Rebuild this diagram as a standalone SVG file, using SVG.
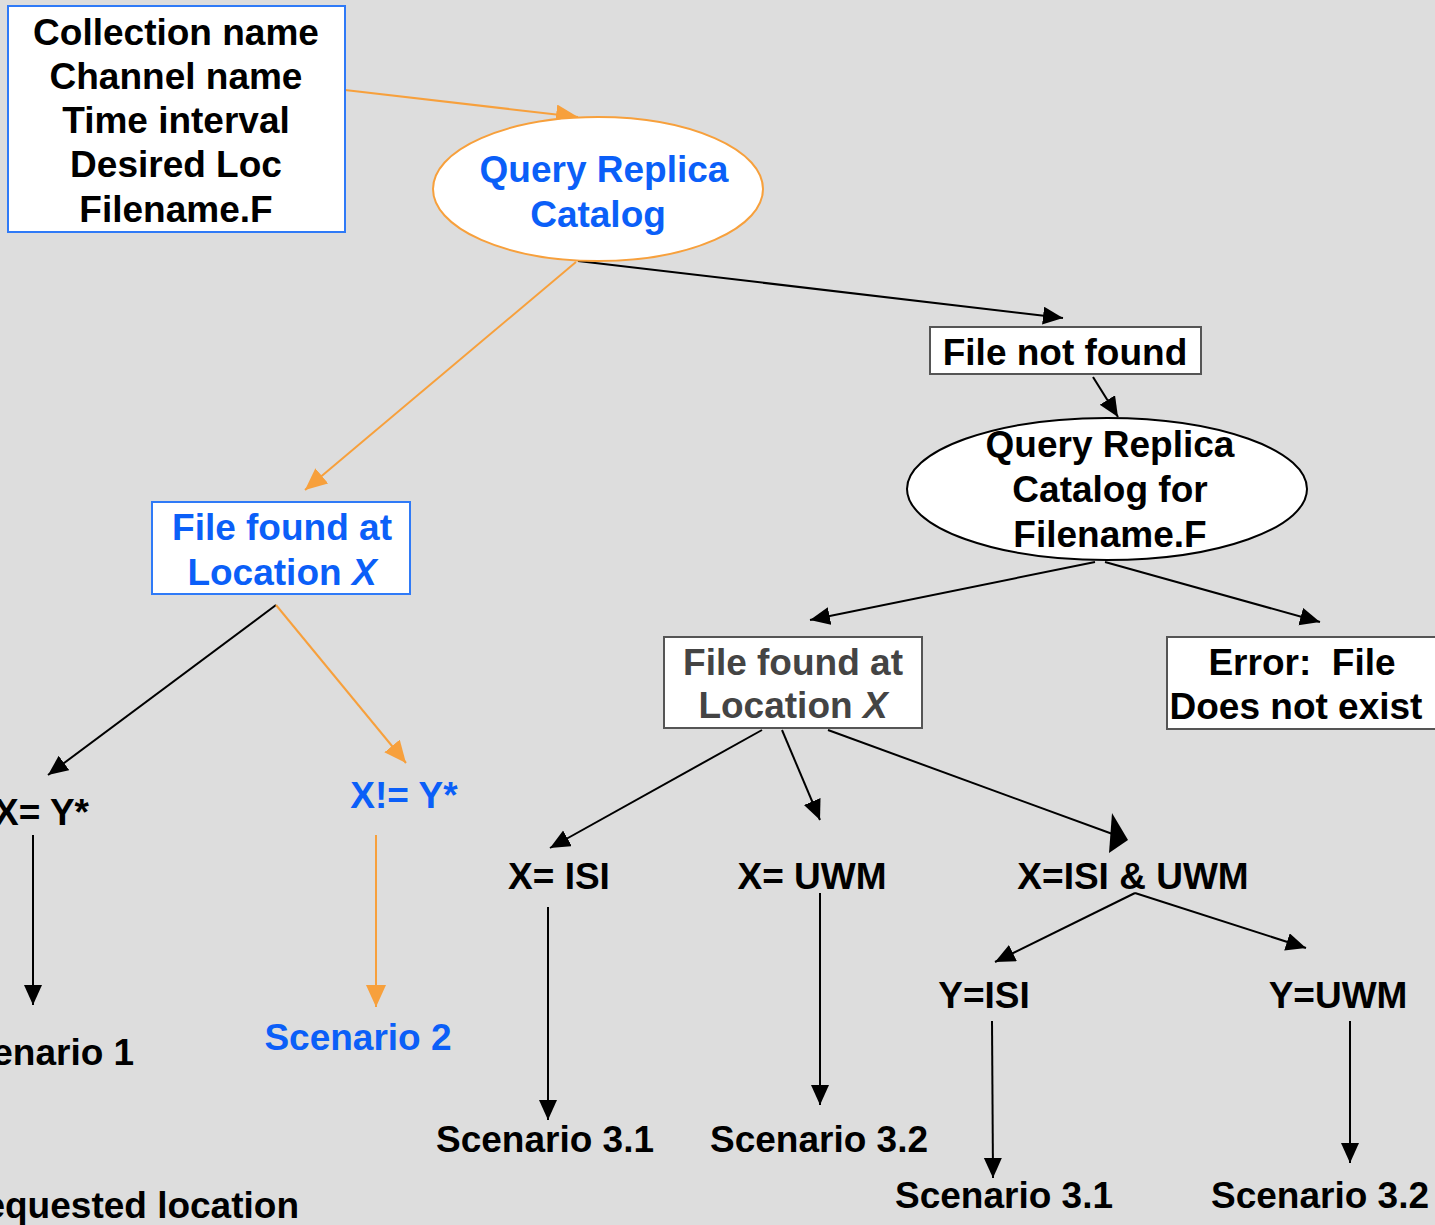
<svg xmlns="http://www.w3.org/2000/svg" width="1435" height="1225" viewBox="0 0 1435 1225">
  <style>
    text { font-family: "Liberation Sans", Arial, sans-serif; font-weight: bold; font-size: 37px; fill: #000; white-space: pre; }
    .c { text-anchor: middle; }
    .blue { fill: #0b5ff8; }
    .grey { fill: #444; }
    .bx { fill: #fff; stroke-width: 2; }
    .bb { stroke: #2f7af7; }
    .bg { stroke: #555; }
    .k { stroke: #000; stroke-width: 2; fill: none; }
    .o { stroke: #f7a03c; stroke-width: 2; fill: none; }
  </style>
  <defs>
    <marker id="ak" markerUnits="userSpaceOnUse" markerWidth="22" markerHeight="20" refX="20" refY="9" orient="auto">
      <path d="M0,0 L20,9 L0,18 z" fill="#000"/>
    </marker>
    <marker id="ao" markerUnits="userSpaceOnUse" markerWidth="24" markerHeight="22" refX="22" refY="10" orient="auto">
      <path d="M0,0 L22,10 L0,20 z" fill="#f7a03c"/>
    </marker>
  </defs>

  <rect width="1435" height="1225" fill="#dddddd"/>

  <!-- connectors -->
  <g id="connectors">
    <line class="o" x1="345" y1="90" x2="578" y2="117" marker-end="url(#ao)"/>
    <line class="k" x1="578" y1="261" x2="1063" y2="318" marker-end="url(#ak)"/>
    <line class="o" x1="576" y1="262" x2="305" y2="490" marker-end="url(#ao)"/>
    <line class="k" x1="1093" y1="377" x2="1118" y2="417" marker-end="url(#ak)"/>
    <line class="k" x1="1095" y1="562" x2="810" y2="620" marker-end="url(#ak)"/>
    <line class="k" x1="1105" y1="562" x2="1320" y2="622" marker-end="url(#ak)"/>
    <line class="k" x1="276" y1="605" x2="48" y2="775" marker-end="url(#ak)"/>
    <line class="o" x1="276" y1="605" x2="406" y2="763" marker-end="url(#ao)"/>
    <line class="k" x1="33" y1="835" x2="33" y2="1005" marker-end="url(#ak)"/>
    <line class="o" x1="376" y1="835" x2="376" y2="1007" marker-end="url(#ao)"/>
    <line class="k" x1="762" y1="730" x2="550" y2="848" marker-end="url(#ak)"/>
    <line class="k" x1="782" y1="730" x2="820" y2="820" marker-end="url(#ak)"/>
    <line class="k" x1="828" y1="730" x2="1118" y2="836"/>
    <polygon points="1112,813 1128,840 1109,853" fill="#000"/>
    <line class="k" x1="548" y1="907" x2="548" y2="1120" marker-end="url(#ak)"/>
    <line class="k" x1="820" y1="893" x2="820" y2="1105" marker-end="url(#ak)"/>
    <line class="k" x1="1135" y1="893" x2="995" y2="962" marker-end="url(#ak)"/>
    <line class="k" x1="1135" y1="893" x2="1306" y2="948" marker-end="url(#ak)"/>
    <line class="k" x1="992" y1="1021" x2="993" y2="1178" marker-end="url(#ak)"/>
    <line class="k" x1="1350" y1="1021" x2="1350" y2="1163" marker-end="url(#ak)"/>
  </g>

  <!-- input parameters -->
  <g id="inputs">
    <rect class="bx bb" x="8" y="6" width="337" height="226"/>
    <text class="c" x="176" y="45">Collection name</text>
    <text class="c" x="176" y="89">Channel name</text>
    <text class="c" x="176" y="133">Time interval</text>
    <text class="c" x="176" y="177">Desired Loc</text>
    <text class="c" x="176" y="222">Filename.F</text>
  </g>

  <g id="query1">
    <ellipse cx="598" cy="189" rx="165" ry="72" fill="#fff" stroke="#f7a03c" stroke-width="2"/>
    <text class="c blue" x="604" y="182">Query Replica</text>
    <text class="c blue" x="598" y="227">Catalog</text>
  </g>

  <g id="not-found">
    <rect class="bx bg" x="930" y="327" width="271" height="47"/>
    <text class="c" x="1065" y="365">File not found</text>
  </g>

  <g id="query2">
    <ellipse cx="1107" cy="489" rx="200" ry="71" fill="#fff" stroke="#000" stroke-width="2"/>
    <text class="c" x="1110" y="457">Query Replica</text>
    <text class="c" x="1110" y="502">Catalog for</text>
    <text class="c" x="1110" y="547">Filename.F</text>
  </g>

  <g id="found-left">
    <rect class="bx bb" x="152" y="502" width="258" height="92"/>
    <text class="c blue" x="282" y="540">File found at</text>
    <text class="c blue" x="282" y="585">Location <tspan font-style="italic">X</tspan></text>
  </g>

  <g id="found-right">
    <rect class="bx bg" x="664" y="637" width="258" height="91"/>
    <text class="c grey" x="793" y="675">File found at</text>
    <text class="c grey" x="793" y="718">Location <tspan font-style="italic">X</tspan></text>
  </g>

  <g id="error">
    <rect class="bx bg" x="1167" y="637" width="270" height="92"/>
    <text class="c" x="1302" y="675">Error:  File</text>
    <text class="c" x="1296" y="719">Does not exist</text>
  </g>

  <g id="x-eq-y"><text x="-6" y="825">X= Y*</text></g>
  <g id="x-ne-y"><text class="c blue" x="404" y="808">X!= Y*</text></g>
  <g id="scenario1"><text x="-53" y="1065">Scenario 1</text></g>
  <g id="scenario2"><text class="c blue" x="358" y="1050">Scenario 2</text></g>
  <g id="note"><text x="299" y="1218" text-anchor="end">requested location</text></g>

  <g id="x-isi"><text class="c" x="559" y="889">X= ISI</text></g>
  <g id="x-uwm"><text class="c" x="812" y="889">X= UWM</text></g>
  <g id="x-both"><text class="c" x="1133" y="889">X=ISI &amp; UWM</text></g>
  <g id="scenario31a"><text class="c" x="545" y="1152">Scenario 3.1</text></g>
  <g id="scenario32a"><text class="c" x="819" y="1152">Scenario 3.2</text></g>
  <g id="y-isi"><text class="c" x="984" y="1008">Y=ISI</text></g>
  <g id="y-uwm"><text class="c" x="1338" y="1008">Y=UWM</text></g>
  <g id="scenario31b"><text class="c" x="1004" y="1208">Scenario 3.1</text></g>
  <g id="scenario32b"><text class="c" x="1320" y="1208">Scenario 3.2</text></g>
</svg>
